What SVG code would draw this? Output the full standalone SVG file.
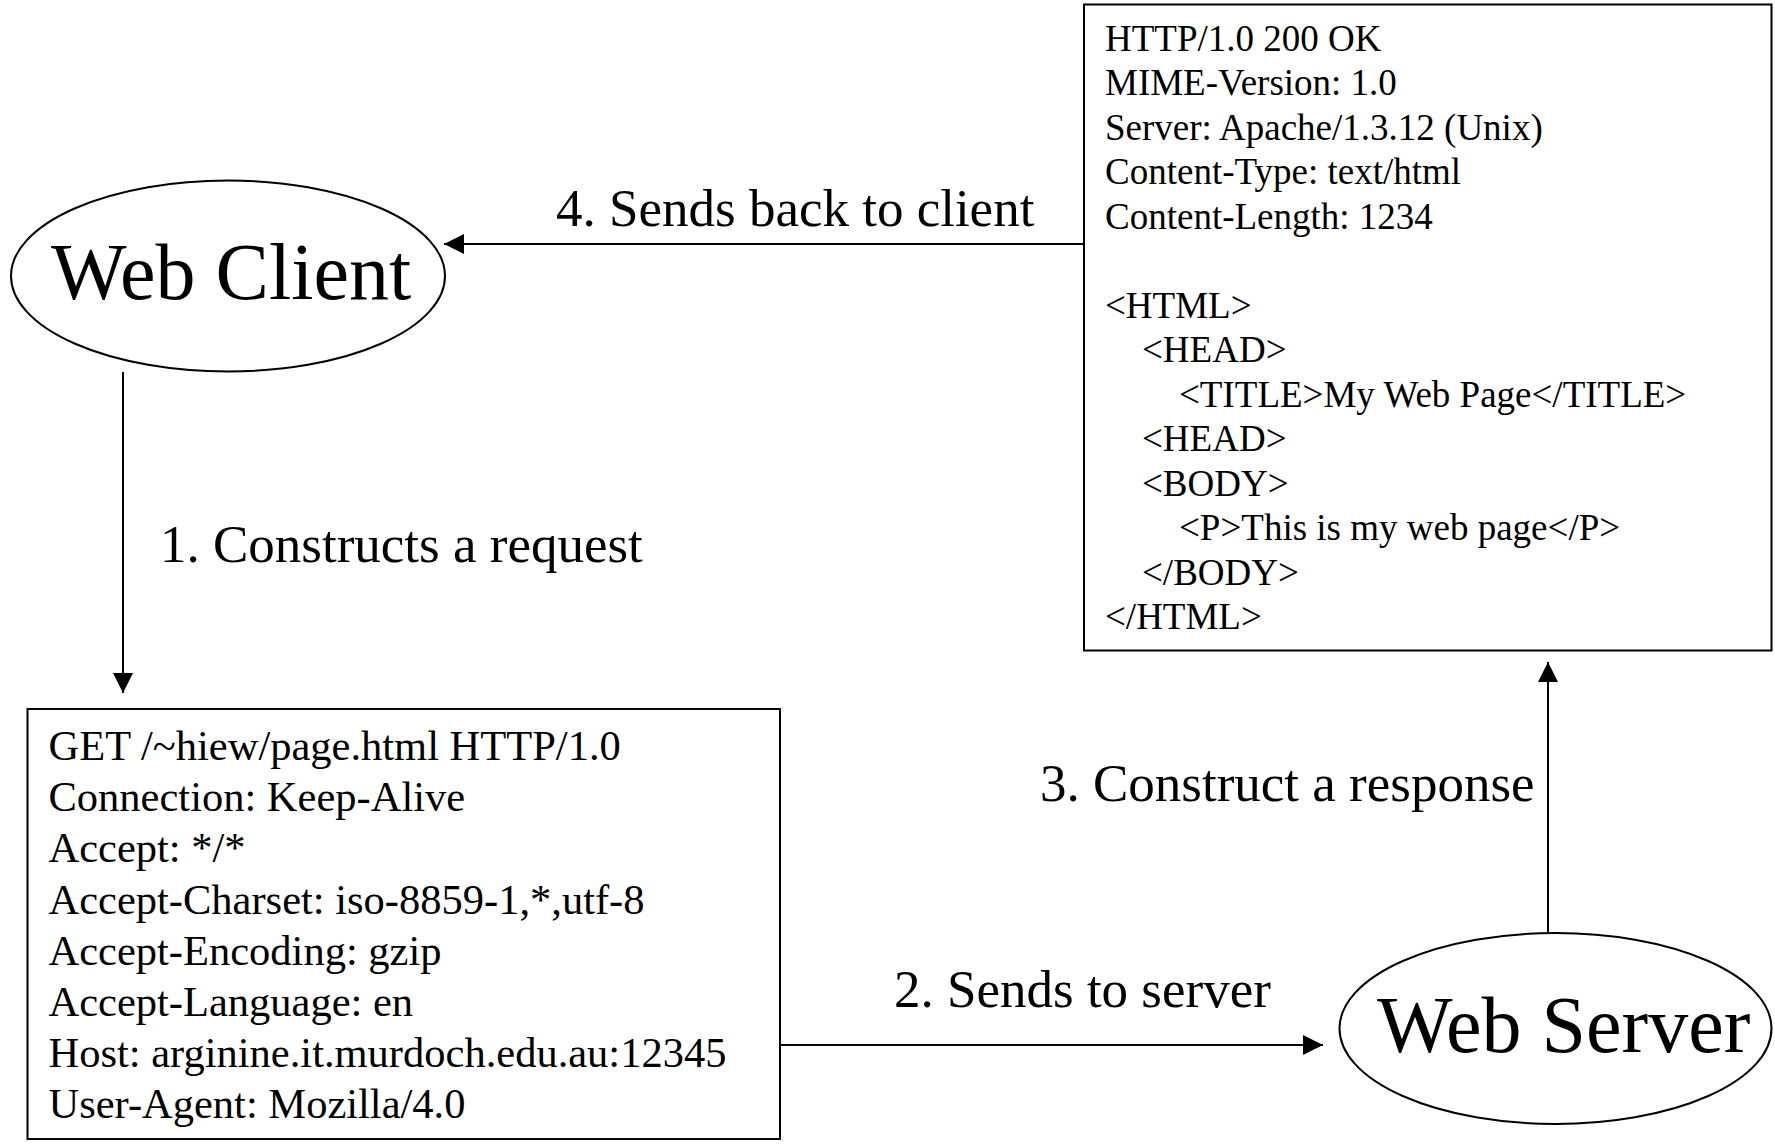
<svg xmlns="http://www.w3.org/2000/svg" width="1775" height="1145" viewBox="0 0 1775 1145">
<style>
  text { font-family: "Liberation Serif", "Times New Roman", serif; fill: #000; }
  .shape { fill: #fff; stroke: #000; stroke-width: 2; }
  .conn { stroke: #000; stroke-width: 2; fill: none; marker-end: url(#arrow); }
  .big { font-size: 80px; }
  .label { font-size: 53px; }
  .req { font-size: 42.5px; }
  .resp { font-size: 37px; }
</style>
<defs>
  <marker id="arrow" markerUnits="userSpaceOnUse" markerWidth="20" markerHeight="20" refX="20" refY="10" orient="auto">
    <path d="M0,0 L20,10 L0,20 z" fill="#000"/>
  </marker>
</defs>
<rect width="1775" height="1145" fill="#fff"/>

<g id="connectors">
  <line class="conn" x1="123" y1="372" x2="123" y2="693"/>
  <line class="conn" x1="780" y1="1045" x2="1323" y2="1045"/>
  <line class="conn" x1="1548" y1="933" x2="1548" y2="662"/>
  <line class="conn" x1="1084" y1="244" x2="444" y2="244"/>
  <text class="label" x="160" y="562">1. Constructs a request</text>
  <text class="label" x="894" y="1007">2. Sends to server</text>
  <text class="label" x="1040" y="801">3. Construct a response</text>
  <text class="label" x="556" y="226">4. Sends back to client</text>
</g>

<g id="web-client">
  <ellipse class="shape" cx="228" cy="276" rx="217" ry="95.5"/>
  <text class="big" x="51" y="299">Web Client</text>
</g>

<g id="web-server">
  <ellipse class="shape" cx="1555.5" cy="1028.5" rx="216" ry="95.5"/>
  <text class="big" x="1377" y="1052">Web Server</text>
</g>

<g id="request">
  <rect class="shape" x="27.5" y="709" width="752.5" height="430"/>
  <text class="req" x="48.5" y="760">GET /~hiew/page.html HTTP/1.0</text>
  <text class="req" x="48.5" y="811.2">Connection: Keep-Alive</text>
  <text class="req" x="48.5" y="862.4">Accept: */*</text>
  <text class="req" x="48.5" y="913.6">Accept-Charset: iso-8859-1,*,utf-8</text>
  <text class="req" x="48.5" y="964.8">Accept-Encoding: gzip</text>
  <text class="req" x="48.5" y="1016">Accept-Language: en</text>
  <text class="req" x="48.5" y="1067.2">Host: arginine.it.murdoch.edu.au:12345</text>
  <text class="req" x="48.5" y="1118.4">User-Agent: Mozilla/4.0</text>
</g>

<g id="response">
  <rect class="shape" x="1084" y="4.5" width="687.5" height="646"/>
  <text class="resp" x="1105" y="50.5">HTTP/1.0 200 OK</text>
  <text class="resp" x="1105" y="95">MIME-Version: 1.0</text>
  <text class="resp" x="1105" y="139.5">Server: Apache/1.3.12 (Unix)</text>
  <text class="resp" x="1105" y="184">Content-Type: text/html</text>
  <text class="resp" x="1105" y="228.5">Content-Length: 1234</text>
  <text class="resp" x="1105" y="317.5">&lt;HTML&gt;</text>
  <text class="resp" x="1142" y="362">&lt;HEAD&gt;</text>
  <text class="resp" x="1179" y="406.5">&lt;TITLE&gt;My Web Page&lt;/TITLE&gt;</text>
  <text class="resp" x="1142" y="451">&lt;HEAD&gt;</text>
  <text class="resp" x="1142" y="495.5">&lt;BODY&gt;</text>
  <text class="resp" x="1179" y="540">&lt;P&gt;This is my web page&lt;/P&gt;</text>
  <text class="resp" x="1142" y="584.5">&lt;/BODY&gt;</text>
  <text class="resp" x="1105" y="629">&lt;/HTML&gt;</text>
</g>
</svg>
